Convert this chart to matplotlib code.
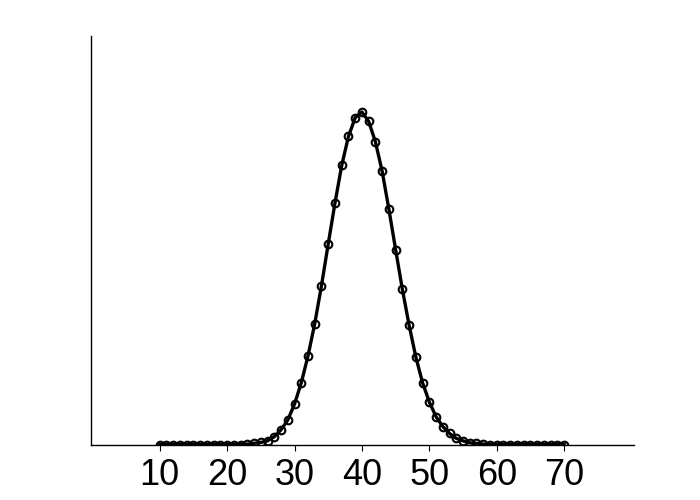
import numpy as np
import matplotlib
matplotlib.use("Agg")
import matplotlib.pyplot as plt

# x positions (one point per integer)
x_vals = list(range(10, 71))

# y values (peak near 40)
y_vals = [0.0] * 13 + [
    0.0001, 0.0003, 0.0005, 0.0009, 0.0019, 0.0036, 0.0060, 0.0099,  # 23-30
    0.0151, 0.0217, 0.0296, 0.0389, 0.0491, 0.0591, 0.0683, 0.0754,  # 31-38
    0.0800, 0.0814, 0.0791, 0.0741, 0.0669, 0.0576, 0.0477, 0.0380,  # 39-46
    0.0292, 0.0214, 0.0151, 0.0104, 0.0068, 0.0044, 0.0027, 0.0015,  # 47-54
    0.0009, 0.0004, 0.0003, 0.0001,                                  # 55-58
] + [0.0] * 12

xtick_vals = [10, 20, 30, 40, 50, 60, 70]

plt.rcParams['font.family'] = ['Liberation Sans', 'DejaVu Sans']

fig = plt.figure(figsize=(7, 5), dpi=100)
ax = fig.add_axes([0.13, 0.111, 0.776, 0.817])

ax.plot(x_vals, y_vals, color='black', linewidth=2.4, marker='o',
        markersize=5.5, markerfacecolor='none', markeredgecolor='black',
        markeredgewidth=1.5)

ax.set_xlim(-0.2, 80.4)
ax.set_ylim(0, 0.1)
ax.set_xticks(xtick_vals)
ax.set_xticklabels([str(v) for v in xtick_vals])
ax.set_yticks([])
ax.tick_params(axis='x', labelsize=26, length=4, width=0.8, pad=6)

ax.spines['top'].set_visible(False)
ax.spines['right'].set_visible(False)
ax.spines['left'].set_linewidth(1)
ax.spines['bottom'].set_linewidth(1)

fig.savefig('out.png', dpi=100)
